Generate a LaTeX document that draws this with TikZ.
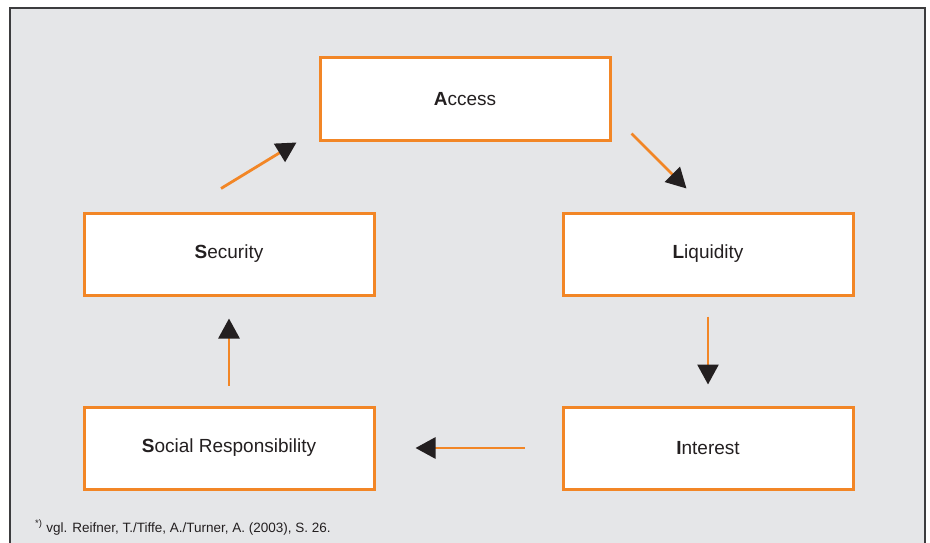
\documentclass[tikz,border=0pt]{standalone}
\usepackage{fontspec}
\setmainfont{Liberation Sans}
\usetikzlibrary{arrows.meta,calc}
\definecolor{panelgray}{RGB}{229,230,232}
\definecolor{framegray}{RGB}{60,60,62}
\definecolor{accent}{RGB}{242,134,38}
\definecolor{ink}{RGB}{35,31,32}
\begin{document}
\begin{tikzpicture}[x=1pt,y=-1pt,
  cyclebox/.style={draw=accent,line width=3pt,fill=white,minimum width=290pt,minimum height=82pt,inner sep=0pt,text=ink,font=\fontsize{19}{22}\selectfont},
  flow/.style={draw=accent,line width=2.8pt,-{Triangle[length=20pt,width=21pt,color=ink]}}]
  \useasboundingbox (0,0) rectangle (930,543);
  \clip (0,0) rectangle (930,543);
  % panel
  \draw[fill=panelgray,draw=framegray,line width=1.8pt] (10,8) rectangle (925,580);
  % boxes of the cycle
  \node[cyclebox] (access) at (465,99) {\textbf{A}ccess};
  \node[cyclebox] (liquidity) at (708,254) {\textbf{L}iquidity};
  \node[cyclebox] (interest) at (708,448) {\textbf{I}nterest};
  \node[cyclebox] (social) at (229,448) {\textbf{S}ocial Responsibility};
  \node[cyclebox] (security) at (229,254) {\textbf{S}ecurity};
  % connectors
  \draw[flow] ($(access.south east)+(20,-8)$) -- ($(liquidity.north west)+(125,-23)$);
  \draw[flow,shorten <=20pt,shorten >=21pt] (liquidity.south) -- (interest.north);
  \draw[flow,shorten <=37pt,shorten >=40pt] (interest.west) -- (social.east);
  \draw[flow,shorten <=20pt,shorten >=22pt] (social.north) -- (security.south);
  \draw[flow] ($(security.north)+(-8,-23)$) -- ($(access.south west)+(-22,1)$);
  % source note
  \node[anchor=base west,inner sep=0pt,text=ink,font=\fontsize{13.5}{16}\selectfont] (note) at (35,532) {\textsuperscript{*)} vgl. Reifner, T./Tiffe, A./Turner, A. (2003), S. 26.};
\end{tikzpicture}
\end{document}
